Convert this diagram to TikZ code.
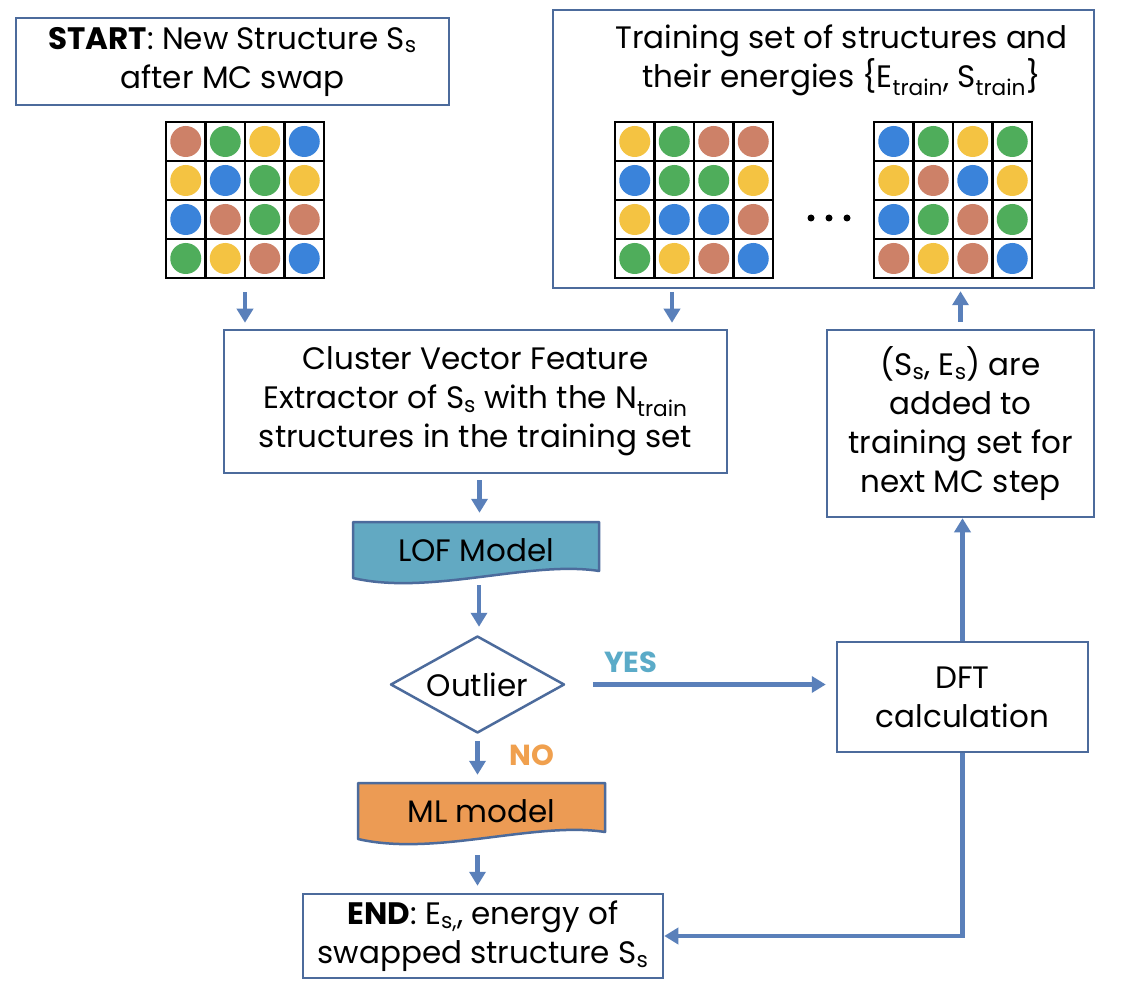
\documentclass[tikz,border=0pt]{standalone}
\usepackage{fontspec}
\setmainfont{Poppins}
\usetikzlibrary{arrows.meta,shapes.geometric}
\definecolor{edge}{HTML}{4C6B9C}
\definecolor{arr}{HTML}{5A80BA}
\definecolor{cbrown}{HTML}{CD8168}
\definecolor{cgreen}{HTML}{4FAD5B}
\definecolor{cyellow}{HTML}{F4C342}
\definecolor{cblue}{HTML}{3A83DA}
\definecolor{lofc}{HTML}{62A9C2}
\definecolor{mlc}{HTML}{EC9B54}
\definecolor{yesc}{HTML}{5BABC8}
\definecolor{noc}{HTML}{F0A04E}
\newcommand\lsub[1]{\textsubscript{#1}}
\newcommand\drawgrid[4]{%
  \node[minimum width=158pt,minimum height=156pt,inner sep=0pt] (#1) at (#2+79,#3+78) {};
  \foreach \cc [count=\i from 0] in {#4} {
    \pgfmathtruncatemacro\gc{mod(\i,4)}
    \pgfmathtruncatemacro\gr{div(\i,4)}
    \fill[\cc] ({#2+\gc*39.5+19.75},{#3+\gr*39+19.5}) circle[radius=15.5pt];
  }
  \foreach \k in {0,...,4} {
    \draw[gridline] ({#2+\k*39.5},#3) -- ({#2+\k*39.5},#3+156);
    \draw[gridline] (#2,{#3+\k*39}) -- (#2+158,{#3+\k*39});
  }
}
\begin{document}
\begin{tikzpicture}[x=1pt,y=-1pt,
  box/.style={draw=edge,line width=2.5pt,fill=white,align=center,inner sep=0pt},
  txt/.style={font=\fontsize{31}{39}\selectfont,align=center},
  lbl/.style={font=\fontsize{29}{30}\selectfont\bfseries},
  gridline/.style={line width=2.5pt,black,line cap=rect},
  arrowline/.style={draw=arr,line width=4.5pt,-{Triangle[width=16pt,length=14pt]}},
  shapeline/.style={draw=edge,line width=2.5pt,line join=round}]
\fill[white] (0,0) rectangle (1144,1008);
\useasboundingbox (0,0) rectangle (1144,1008);

% start
\node[box,txt,minimum width=433pt,minimum height=87pt] (start) at (232.5,61.5)
  {\textbf{START}: New Structure S\lsub{s}\\after MC swap};
\drawgrid{g1}{166}{122}{cbrown,cgreen,cyellow,cblue, cyellow,cblue,cgreen,cyellow, cblue,cbrown,cgreen,cbrown, cgreen,cyellow,cbrown,cblue}

% training set
\node[box,minimum width=541pt,minimum height=278pt] (train) at (823.5,149) {};
\node[txt] (ttext) at (841.5,60) {Training set of structures and\\their energies \{E\lsub{train}, S\lsub{train}\}};
\drawgrid{g2}{615}{122}{cyellow,cgreen,cbrown,cbrown, cblue,cgreen,cgreen,cyellow, cyellow,cblue,cblue,cbrown, cgreen,cyellow,cbrown,cblue}
\drawgrid{g3}{874}{122}{cblue,cgreen,cyellow,cgreen, cyellow,cbrown,cblue,cyellow, cblue,cgreen,cbrown,cgreen, cbrown,cyellow,cbrown,cblue}
\foreach \dx in {811,829,847} \fill[black] (\dx,218) circle[radius=3.5pt];

% cluster
\node[box,txt,minimum width=503pt,minimum height=143pt] (clus) at (475.5,401.5)
  {Cluster Vector Feature\\Extractor of S\lsub{s} with the N\lsub{train}\\structures in the training set};

% LOF
\filldraw[shapeline,fill=lofc] (353,522) -- (599,522) -- (599,571) .. controls (530,560) and (430,596) .. (353,578) -- cycle;
\node[txt,minimum width=246pt,minimum height=56pt,inner sep=0pt] (lof) at (476,550) {LOF Model};

% outlier
\node[shapeline,diamond,aspect=1.8,minimum width=174pt,minimum height=97pt,inner sep=0pt,fill=white,font=\fontsize{31}{39}\selectfont] (out) at (477.5,684.5) {Outlier};

% ML
\filldraw[shapeline,fill=mlc] (358,783) -- (605,783) -- (605,832) .. controls (535,821) and (435,857) .. (358,839) -- cycle;
\node[txt,minimum width=247pt,minimum height=56pt,inner sep=0pt] (ml) at (481.5,811) {ML model};

% END
\node[box,txt,minimum width=360pt,minimum height=84pt] (end) at (483,936)
  {\textbf{END}: E\lsub{s,}, energy of\\swapped structure S\lsub{s}};

% DFT and added
\node[box,txt,minimum width=251pt,minimum height=110pt] (dft) at (962.5,697) {DFT\\calculation};
\node[box,txt,minimum width=267pt,minimum height=187pt] (add) at (960.5,423.5)
  {(S\lsub{s}, E\lsub{s}) are\\added to\\training set for\\next MC step};

% labels
\node[lbl,text=yesc] (yes) at (631,662) {YES};
\node[lbl,text=noc] (no) at (532,755) {NO};

% connectors
\coordinate (t2) at (672,288);
\draw[arrowline,shorten <=14pt,shorten >=6pt] (g1.south) -- (g1.south |- clus.north);
\draw[arrowline,shorten <=4pt,shorten >=6pt] (t2) -- (t2 |- clus.north);
\draw[arrowline,shorten <=6pt,shorten >=9pt] ([xshift=4pt]clus.south) -- ([xshift=4pt]clus.south |- lof.north);
\draw[arrowline,shorten <=7pt,shorten >=8pt] ([xshift=3pt]lof.south) -- ([xshift=3pt]lof.south |- out.north);
\draw[arrowline,shorten <=7pt,shorten >=8pt] (out.south) -- (out.south |- ml.north);
\draw[arrowline,shorten <=16pt,shorten >=7pt] (out.south |- ml.south) -- (out.south |- end.north);
\draw[arrowline,shorten <=27pt,shorten >=10pt] (out.east) -- (out.east -| dft.west);
\draw[arrowline] (dft.north) -- (dft.north |- add.south);
\draw[arrowline,shorten <=7pt,shorten >=2pt] (add.north) -- (add.north |- train.south);
\draw[arrowline] (dft.south) |- (end.east);
\end{tikzpicture}
\end{document}
